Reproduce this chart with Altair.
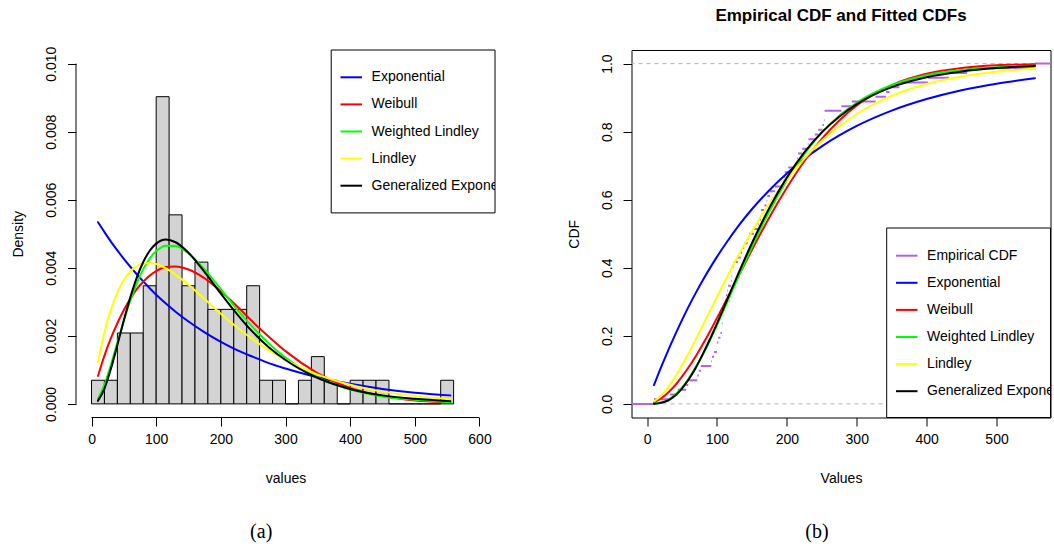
import altair as alt
import pandas as pd

FONT = "Liberation Sans"
SERIF = "Liberation Serif"

# Survival times (days) of 72 animals
VALUES = [10, 33, 44, 56, 59, 72, 74, 77, 92, 93, 96, 100, 100, 102, 105, 107, 107, 108,
          108, 108, 109, 112, 113, 115, 116, 120, 121, 122, 122, 124, 130, 134, 136, 139,
          144, 146, 153, 159, 160, 163, 163, 168, 171, 172, 176, 183, 195, 196, 197, 202,
          213, 215, 216, 222, 230, 231, 240, 245, 251, 253, 254, 254, 278, 293, 327, 342,
          347, 361, 402, 432, 458, 555]

# Histogram (bins of width 20, right-closed)
BIN_WIDTH = 20
BIN_STARTS = list(range(0, 560, BIN_WIDTH))
BIN_COUNTS = [1, 1, 3, 3, 5, 13, 8, 5, 6, 4, 4, 4, 5, 1, 1, 0, 1, 2, 1, 0, 1, 1, 1, 0, 0, 0, 0, 1]

MODELS = ["Exponential", "Weibull", "Weighted Lindley", "Lindley", "Generalized Exponential"]
MODEL_COLORS = ["#0000FF", "#FF0000", "#00FF00", "#FFFF00", "#000000"]
ECDF_LABEL = "Empirical CDF"
ECDF_COLOR = "#B062F0"

# Fitted curves sampled along the data range
GRID = [10, 20, 30, 40, 50, 60, 70, 80, 90, 100, 115, 130, 150, 175, 200, 225, 250,
        275, 300, 350, 400, 450, 500, 555]

PDF = {
    "Exponential": [0.00534, 0.00505, 0.00477, 0.00451, 0.00426, 0.00403, 0.00381, 0.00360,
                    0.00340, 0.00321, 0.00295, 0.00271, 0.00242, 0.00210, 0.00182, 0.00158,
                    0.00138, 0.00119, 0.00104, 0.00078, 0.00059, 0.00044, 0.00033, 0.00025],
    "Weibull": [0.00082, 0.00142, 0.00193, 0.00237, 0.00276, 0.00309, 0.00337, 0.00359,
                0.00377, 0.00390, 0.00402, 0.00404, 0.00395, 0.00369, 0.00331, 0.00287,
                0.00240, 0.00196, 0.00155, 0.00090, 0.00047, 0.00023, 0.00010, 0.00004],
    "Weighted Lindley": [0.00015, 0.00057, 0.00115, 0.00180, 0.00244, 0.00303, 0.00354, 0.00396,
                         0.00427, 0.00449, 0.00465, 0.00464, 0.00442, 0.00395, 0.00337, 0.00278,
                         0.00224, 0.00176, 0.00136, 0.00078, 0.00042, 0.00022, 0.00012, 0.00005],
    "Lindley": [0.00123, 0.00210, 0.00277, 0.00327, 0.00364, 0.00389, 0.00405, 0.00412,
                0.00414, 0.00411, 0.00398, 0.00380, 0.00350, 0.00308, 0.00265, 0.00225,
                0.00189, 0.00157, 0.00129, 0.00086, 0.00056, 0.00036, 0.00023, 0.00014],
    "Generalized Exponential": [0.00009, 0.00045, 0.00103, 0.00173, 0.00246, 0.00313, 0.00371,
                                0.00417, 0.00450, 0.00471, 0.00483, 0.00475, 0.00444, 0.00387,
                                0.00324, 0.00264, 0.00210, 0.00165, 0.00129, 0.00076, 0.00044,
                                0.00025, 0.00015, 0.00008],
}

CDF = {
    "Exponential": [0.055, 0.107, 0.156, 0.202, 0.246, 0.288, 0.327, 0.364, 0.399, 0.432, 0.478,
                    0.521, 0.572, 0.628, 0.677, 0.720, 0.757, 0.789, 0.817, 0.862, 0.896, 0.922,
                    0.941, 0.957],
    "Weibull": [0.005, 0.016, 0.033, 0.054, 0.080, 0.109, 0.141, 0.176, 0.213, 0.252, 0.311,
                0.372, 0.452, 0.548, 0.635, 0.713, 0.779, 0.833, 0.877, 0.937, 0.970, 0.987,
                0.995, 0.998],
    "Weighted Lindley": [0.0005, 0.004, 0.012, 0.027, 0.048, 0.076, 0.109, 0.146, 0.187, 0.231,
                         0.300, 0.370, 0.461, 0.566, 0.657, 0.734, 0.797, 0.847, 0.885, 0.937,
                         0.966, 0.981, 0.989, 0.994],
    "Lindley": [0.007, 0.024, 0.048, 0.079, 0.113, 0.151, 0.191, 0.232, 0.273, 0.314, 0.375,
                0.434, 0.506, 0.589, 0.660, 0.721, 0.773, 0.816, 0.852, 0.905, 0.940, 0.962,
                0.976, 0.986],
    "Generalized Exponential": [0.0003, 0.003, 0.010, 0.024, 0.045, 0.073, 0.107, 0.147, 0.190,
                                0.236, 0.308, 0.380, 0.472, 0.576, 0.665, 0.739, 0.798, 0.844,
                                0.881, 0.931, 0.960, 0.977, 0.987, 0.993],
}

X_TICKS_L = [0, 100, 200, 300, 400, 500, 600]
Y_TICKS_L = [0.0, 0.002, 0.004, 0.006, 0.008, 0.010]
X_TICKS_R = [0, 100, 200, 300, 400, 500]
Y_TICKS_R = [0.0, 0.2, 0.4, 0.6, 0.8, 1.0]

# ---- layout ----
W, H = 419.0, 367.5
XL_DOM = [-24, 624]
YL_DOM = [-0.0004, 0.0104]
XR_DOM = [-22.2, 577.2]
YR_DOM = [-0.04, 1.04]
TICK = 8.5
LEG_BOX_X = 255.2
LEG_LINE = (264.5, 286.0)
LEG_TEXT_X = 295.6
LEG_STEP = 27.1


def x_axis(title, values):
    return alt.Axis(values=values, title=title, format="d", domain=False, grid=False,
                    tickSize=TICK, tickColor="black", tickWidth=1,
                    labelFont=FONT, labelFontSize=14, labelColor="black",
                    labelBaseline="alphabetic", labelPadding=17.5, labelAngle=0,
                    labelFlush=False, labelOverlap=False,
                    titleFont=FONT, titleFontSize=14, titleFontWeight="normal",
                    titleColor="black", titleBaseline="alphabetic", titleY=65)


def y_axis(title, values, fmt):
    return alt.Axis(values=values, title=title, format=fmt, domain=False, grid=False,
                    tickSize=TICK, tickColor="black", tickWidth=1,
                    labelFont=FONT, labelFontSize=14, labelColor="black",
                    labelAngle=270, labelAlign="center", labelBaseline="alphabetic",
                    labelPadding=12, labelFlush=False, labelOverlap=False,
                    titleFont=FONT, titleFontSize=14, titleFontWeight="normal",
                    titleColor="black", titleAngle=270, titleAlign="center",
                    titleBaseline="alphabetic", titleX=-53.5, titleY=H / 2)


ONE = pd.DataFrame({"k": [0]})


def legend_layers(labels, colors, box_top, box_bottom, first_y):
    layers = [alt.Chart(ONE).mark_rect(fill="white", stroke="black", strokeWidth=1).encode(
        x=alt.value(LEG_BOX_X), x2=alt.value(W), y=alt.value(box_top), y2=alt.value(box_bottom))]
    for i, (lab, col) in enumerate(zip(labels, colors)):
        yy = first_y + i * LEG_STEP
        layers.append(alt.Chart(ONE).mark_rule(color=col, strokeWidth=2).encode(
            x=alt.value(LEG_LINE[0]), x2=alt.value(LEG_LINE[1]), y=alt.value(yy)))
        layers.append(alt.Chart(ONE).mark_text(
            text=lab, align="left", baseline="middle", font=FONT, fontSize=14,
            color="black", clip=True).encode(x=alt.value(LEG_TEXT_X), y=alt.value(yy)))
    return layers


def curves(table, xs, ys):
    out = []
    for m, c in zip(MODELS, MODEL_COLORS):
        df = pd.DataFrame({"x": GRID, "y": table[m]})
        out.append(alt.Chart(df).mark_line(color=c, strokeWidth=2, interpolate="monotone",
                                           strokeCap="round").encode(
            x=alt.X("x:Q", scale=xs), y=alt.Y("y:Q", scale=ys)))
    return out


# ---- (a) histogram with fitted densities ----
n = len(VALUES)
hist_df = pd.DataFrame({
    "start": BIN_STARTS,
    "end": [s + BIN_WIDTH for s in BIN_STARTS],
    "density": [c / (n * BIN_WIDTH) for c in BIN_COUNTS],
})
xL = alt.Scale(domain=XL_DOM, nice=False, zero=False)
yL = alt.Scale(domain=YL_DOM, nice=False, zero=False)

hist = alt.Chart(hist_df).mark_rect(fill="#D3D3D3", stroke="black", strokeWidth=1).encode(
    x=alt.X("start:Q", scale=xL, axis=x_axis("values", X_TICKS_L)),
    x2="end:Q",
    y=alt.Y("density:Q", scale=yL, axis=y_axis("Density", Y_TICKS_L, ".3f")),
    y2=alt.datum(0),
)
xline_l = alt.Chart(pd.DataFrame({"a": [X_TICKS_L[0]], "b": [X_TICKS_L[-1]]})).mark_rule(
    color="black", strokeWidth=1).encode(x=alt.X("a:Q", scale=xL), x2="b:Q", y=alt.value(H))
yline_l = alt.Chart(pd.DataFrame({"a": [Y_TICKS_L[0]], "b": [Y_TICKS_L[-1]]})).mark_rule(
    color="black", strokeWidth=1).encode(y=alt.Y("a:Q", scale=yL), y2="b:Q", x=alt.value(0))
cap_a = alt.Chart(ONE).mark_text(text="(a)", font=SERIF, fontSize=20, color="black",
                                 baseline="middle").encode(x=alt.value(185.2), y=alt.value(482))

left = alt.layer(
    hist, *curves(PDF, xL, yL), xline_l, yline_l,
    *legend_layers(MODELS, MODEL_COLORS, 0, 162.9, 27.3), cap_a,
).properties(width=W, height=H)

# ---- (b) empirical and fitted CDFs ----
distinct = sorted(set(VALUES))
ecdf_x0 = [XR_DOM[0]] + distinct
ecdf_x1 = distinct + [XR_DOM[1]]
ecdf_y = [0.0] + [sum(v <= d for v in VALUES) / n for d in distinct]
ecdf_df = pd.DataFrame({"x0": ecdf_x0, "x1": ecdf_x1, "F": ecdf_y})

xR = alt.Scale(domain=XR_DOM, nice=False, zero=False)
yR = alt.Scale(domain=YR_DOM, nice=False, zero=False)

refs = alt.Chart(pd.DataFrame({"h": [0.0, 1.0]})).mark_rule(
    color="#B3B3B3", strokeWidth=1, strokeDash=[4, 4]).encode(
    y=alt.Y("h:Q", scale=yR, axis=y_axis("CDF", Y_TICKS_R, ".1f")))
ecdf = alt.Chart(ecdf_df).mark_rule(color=ECDF_COLOR, strokeWidth=2, clip=True).encode(
    x=alt.X("x0:Q", scale=xR, axis=x_axis("Values", X_TICKS_R)),
    x2="x1:Q",
    y=alt.Y("F:Q", scale=yR),
)
cap_b = alt.Chart(ONE).mark_text(text="(b)", font=SERIF, fontSize=20, color="black",
                                 baseline="middle").encode(x=alt.value(185.5), y=alt.value(482))

right = alt.layer(
    refs, ecdf, *curves(CDF, xR, yR),
    *legend_layers([ECDF_LABEL] + MODELS, [ECDF_COLOR] + MODEL_COLORS, 178.0, H, 205.7),
    cap_b,
).properties(
    width=W, height=H,
    view=alt.ViewBackground(stroke="black", strokeWidth=1),
    title=alt.TitleParams("Empirical CDF and Fitted CDFs", font=FONT, fontSize=17,
                          fontWeight="bold", color="black", anchor="middle",
                          baseline="alphabetic", offset=12.5),
)

chart = alt.hconcat(left, right, spacing=136.5, bounds="flush").configure(
    padding={"left": 11, "top": 6, "right": 0, "bottom": 0},
    autosize=alt.AutoSizeParams(type="pad"),
    font=FONT,
).configure_view(stroke=None)

chart.save("out.html", embed_options={"renderer": "svg", "actions": False})
